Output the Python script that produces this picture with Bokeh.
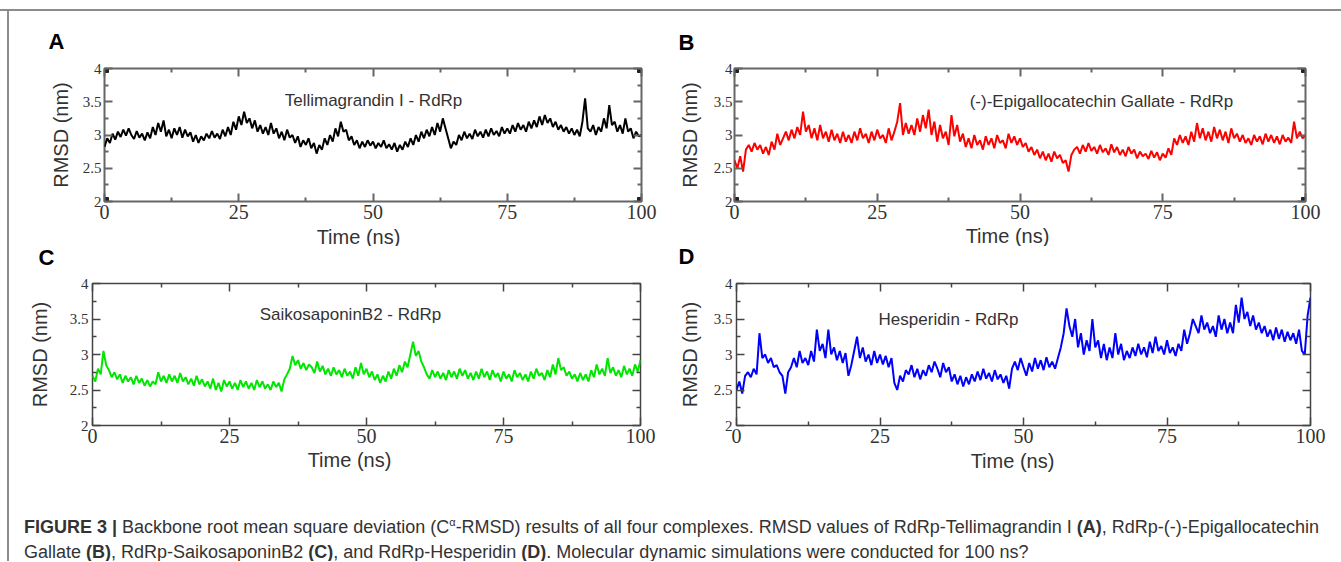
from bokeh.plotting import figure
from bokeh.layouts import column, row
from bokeh.models import Label, LinearAxis, FixedTicker, NumeralTickFormatter, Range1d, Div
from bokeh.embed import file_html
from bokeh.resources import INLINE

# ---------------- data ----------------
TIME_NS = [i * 0.5 for i in range(201)]

RMSD_TELLIMAGRANDIN = [
    2.82, 2.95, 2.88, 3.02, 2.93, 3.05, 2.97, 3.08, 2.99, 3.10,
    3.00, 2.94, 3.06, 2.96, 3.02, 2.92, 3.04, 2.95, 3.12, 3.00,
    3.18, 3.05, 3.22, 2.98, 3.08, 2.95, 3.10, 3.00, 3.12, 2.96,
    3.08, 2.98, 3.04, 2.90, 3.00, 2.88, 2.98, 2.92, 3.02, 2.95,
    3.06, 2.96, 3.02, 2.94, 3.08, 2.98, 3.12, 3.00, 3.20, 3.08,
    3.28, 3.15, 3.35, 3.18, 3.25, 3.10, 3.22, 3.05, 3.15, 3.02,
    3.12, 3.00, 3.18, 3.02, 3.10, 2.95, 3.05, 2.92, 3.08, 2.96,
    3.00, 2.88, 2.98, 2.82, 2.92, 2.85, 2.95, 2.80, 2.88, 2.72,
    2.85, 2.78, 2.95, 2.85, 3.00, 2.90, 3.10, 2.98, 3.20, 3.05,
    3.08, 2.92, 2.98, 2.85, 2.92, 2.80, 2.90, 2.82, 2.92, 2.84,
    2.90, 2.80, 2.88, 2.82, 2.92, 2.80, 2.86, 2.78, 2.88, 2.75,
    2.85, 2.78, 2.90, 2.82, 2.95, 2.85, 3.00, 2.90, 3.05, 2.95,
    3.08, 2.98, 3.12, 3.00, 3.18, 3.05, 3.25, 3.10, 2.95, 2.80,
    2.90, 2.85, 3.00, 2.92, 3.05, 2.95, 3.02, 2.94, 3.08, 2.98,
    3.05, 2.96, 3.08, 2.98, 3.10, 3.00, 3.06, 2.98, 3.12, 3.02,
    3.10, 3.02, 3.15, 3.05, 3.18, 3.08, 3.15, 3.05, 3.20, 3.10,
    3.22, 3.12, 3.28, 3.15, 3.30, 3.18, 3.25, 3.12, 3.20, 3.08,
    3.15, 3.05, 3.12, 3.02, 3.10, 3.00, 3.08, 2.98, 3.20, 3.55,
    3.10, 3.05, 3.15, 3.00, 3.12, 3.05, 3.25, 3.10, 3.45, 3.15,
    3.20, 3.05, 3.15, 3.02, 3.25, 3.05, 3.10, 2.95, 3.05, 2.98,
    3.00,
]

RMSD_EGCG = [
    2.62, 2.50, 2.68, 2.45, 2.78, 2.85, 2.75, 2.88, 2.78, 2.85,
    2.72, 2.82, 2.70, 2.90, 2.78, 3.02, 2.85, 2.95, 3.05, 2.92,
    3.08, 2.95, 3.12, 3.00, 3.35, 3.05, 3.15, 2.95, 3.10, 2.92,
    3.15, 2.95, 3.05, 2.90, 3.08, 2.92, 3.02, 2.88, 3.05, 2.90,
    3.00, 2.88, 3.05, 2.92, 3.10, 2.95, 3.02, 2.88, 3.05, 2.92,
    3.08, 2.95, 3.00, 2.88, 3.10, 2.92, 3.05, 3.20, 3.48, 3.00,
    3.18, 3.02, 3.15, 3.00, 3.25, 3.05, 3.30, 3.10, 3.38, 3.00,
    3.20, 2.90, 3.15, 2.95, 3.05, 2.85, 3.30, 2.98, 3.15, 2.90,
    3.02, 2.82, 2.95, 2.80, 3.00, 2.85, 2.92, 2.78, 2.98, 2.85,
    2.95, 2.80, 3.00, 2.88, 2.92, 2.80, 3.02, 2.88, 2.98, 2.85,
    2.95, 2.82, 2.88, 2.75, 2.82, 2.70, 2.78, 2.65, 2.75, 2.62,
    2.72, 2.60, 2.75, 2.65, 2.70, 2.58, 2.62, 2.45, 2.70, 2.78,
    2.82, 2.72, 2.85, 2.75, 2.88, 2.76, 2.82, 2.72, 2.85, 2.74,
    2.80, 2.70, 2.86, 2.74, 2.82, 2.70, 2.78, 2.68, 2.82, 2.72,
    2.78, 2.65, 2.75, 2.68, 2.72, 2.64, 2.76, 2.66, 2.74, 2.62,
    2.72, 2.66, 2.80, 2.70, 2.95, 2.85, 3.00, 2.88, 2.98, 2.85,
    3.05, 2.90, 3.18, 2.95, 3.10, 2.92, 3.05, 2.90, 3.12, 2.95,
    3.08, 2.92, 3.05, 2.88, 3.10, 2.95, 3.02, 2.90, 3.00, 2.88,
    2.95, 2.85, 3.00, 2.90, 2.98, 2.86, 3.02, 2.90, 3.00, 2.88,
    2.98, 2.86, 3.00, 2.90, 2.96, 2.88, 3.20, 2.95, 3.05, 2.95,
    3.00,
]

RMSD_SAIKOSAPONIN = [
    2.70, 2.62, 2.80, 2.72, 3.05, 2.85, 2.78, 2.68, 2.75, 2.65,
    2.72, 2.60, 2.70, 2.62, 2.68, 2.58, 2.70, 2.60, 2.66, 2.56,
    2.64, 2.55, 2.62, 2.58, 2.75, 2.62, 2.70, 2.60, 2.72, 2.62,
    2.70, 2.60, 2.74, 2.62, 2.68, 2.58, 2.66, 2.56, 2.70, 2.58,
    2.65, 2.55, 2.62, 2.52, 2.66, 2.50, 2.60, 2.48, 2.64, 2.55,
    2.62, 2.52, 2.60, 2.50, 2.64, 2.54, 2.62, 2.52, 2.60, 2.50,
    2.64, 2.54, 2.62, 2.52, 2.58, 2.50, 2.62, 2.54, 2.60, 2.48,
    2.65, 2.72, 2.80, 2.98, 2.85, 2.92, 2.80, 2.88, 2.78, 2.86,
    2.82, 2.74, 2.90, 2.76, 2.84, 2.72, 2.80, 2.70, 2.82, 2.72,
    2.78, 2.68, 2.80, 2.70, 2.76, 2.66, 2.82, 2.70, 2.88, 2.72,
    2.80, 2.68, 2.76, 2.64, 2.72, 2.60, 2.70, 2.62, 2.76, 2.66,
    2.80, 2.70, 2.85, 2.75, 2.90, 2.82, 3.00, 3.18, 2.98, 3.05,
    2.90, 2.82, 2.72, 2.66, 2.78, 2.68, 2.76, 2.66, 2.74, 2.64,
    2.78, 2.68, 2.76, 2.66, 2.80, 2.70, 2.78, 2.66, 2.74, 2.64,
    2.76, 2.66, 2.80, 2.68, 2.76, 2.64, 2.78, 2.68, 2.74, 2.62,
    2.76, 2.66, 2.72, 2.62, 2.78, 2.68, 2.74, 2.64, 2.72, 2.62,
    2.76, 2.66, 2.80, 2.70, 2.74, 2.64, 2.78, 2.68, 2.86, 2.72,
    2.95, 2.78, 2.82, 2.70, 2.76, 2.66, 2.72, 2.62, 2.74, 2.64,
    2.72, 2.62, 2.78, 2.68, 2.86, 2.72, 2.80, 2.70, 2.95, 2.74,
    2.82, 2.70, 2.78, 2.68, 2.84, 2.72, 2.80, 2.70, 2.86, 2.76,
    2.92,
]

RMSD_HESPERIDIN = [
    2.50, 2.62, 2.45, 2.70, 2.75, 2.68, 2.80, 2.72, 3.30, 2.95,
    3.00, 2.88, 2.95, 2.82, 2.85, 2.75, 2.70, 2.45, 2.75, 2.82,
    2.95, 2.82, 3.05, 2.88, 2.95, 2.85, 3.05, 2.90, 3.35, 3.05,
    3.15, 2.95, 3.35, 3.00, 3.10, 2.92, 3.05, 2.88, 3.02, 2.70,
    2.85, 3.05, 3.25, 2.95, 3.10, 2.90, 3.00, 2.85, 3.05, 2.88,
    3.00, 2.86, 2.98, 2.82, 2.95, 2.60, 2.50, 2.70, 2.62, 2.78,
    2.72, 2.85, 2.68, 2.80, 2.65, 2.78, 2.70, 2.85, 2.75, 2.90,
    2.80, 2.68, 2.88, 2.75, 2.82, 2.62, 2.72, 2.58, 2.70, 2.55,
    2.68, 2.58, 2.72, 2.62, 2.76, 2.64, 2.80, 2.66, 2.74, 2.62,
    2.78, 2.65, 2.72, 2.60, 2.70, 2.52, 2.80, 2.90, 2.78, 2.95,
    2.82, 2.70, 2.88, 2.76, 2.95, 2.80, 2.92, 2.78, 2.96, 2.82,
    2.90, 2.80, 2.95, 3.10, 3.30, 3.65, 3.40, 3.25, 3.50, 3.10,
    3.30, 3.00, 3.20, 3.05, 3.50, 3.10, 3.20, 2.95, 3.15, 2.92,
    3.10, 2.95, 3.30, 3.00, 3.15, 2.92, 3.05, 2.95, 3.10, 2.98,
    3.15, 3.00, 3.10, 2.96, 3.18, 3.02, 3.25, 3.05, 3.12, 3.00,
    3.20, 3.02, 3.10, 2.98, 3.15, 3.05, 3.35, 3.15, 3.30, 3.50,
    3.40, 3.30, 3.55, 3.35, 3.45, 3.30, 3.40, 3.25, 3.55, 3.35,
    3.50, 3.30, 3.45, 3.30, 3.70, 3.45, 3.80, 3.50, 3.60, 3.40,
    3.55, 3.35, 3.45, 3.30, 3.40, 3.25, 3.35, 3.20, 3.38, 3.22,
    3.35, 3.18, 3.32, 3.20, 3.30, 3.15, 3.35, 3.05, 3.00, 3.55,
    3.80,
]

X_LIMITS = [0, 100]
Y_LIMITS = [2, 4]
X_TICKS = [0, 25, 50, 75, 100]
X_MINOR_TICKS = [12.5, 37.5, 62.5, 87.5]
Y_TICKS = [2, 2.5, 3, 3.5, 4]
Y_MINOR_TICKS = [2.25, 2.75, 3.25, 3.75]

LETTERS = ["A", "B", "C", "D"]
TITLES = ["Tellimagrandin I - RdRp", "(-)-Epigallocatechin Gallate - RdRp",
          "SaikosaponinB2 - RdRp", "Hesperidin - RdRp"]
SERIES = [RMSD_TELLIMAGRANDIN, RMSD_EGCG, RMSD_SAIKOSAPONIN, RMSD_HESPERIDIN]
COLORS = ["#000000", "#ff0000", "#00e600", "#0000ff"]
X_LABEL = "Time (ns)"
Y_LABEL = "RMSD (nm)"

# ---------------- layout (page pixels, page origin at top-left) ----------------
LAYOUT = [
    dict(o=(0, 0), w=670, h=246, fr=(104, 68, 641, 201), let=(56, 41), tit=(373, 100),
         xl=(358, 236), xl_side="above", tick_sd=3, lab_sd=8,
         frame_col="#666666", frame_w=2, corners=True),
    dict(o=(670, 0), w=671, h=246, fr=(734, 67, 1305, 201), let=(686, 41), tit=(1101, 100),
         xl=(1007, 236), xl_side="above", tick_sd=2, lab_sd=10,
         frame_col="#666666", frame_w=2, corners=True),
    dict(o=(0, 246), w=670, h=234, fr=(92, 282, 640, 425), let=(46, 256), tit=(350, 313),
         xl=(349, 460), xl_side="below", tick_sd=4, lab_sd=16,
         frame_col="#444444", frame_w=1.5, corners=False),
    dict(o=(670, 246), w=671, h=234, fr=(736, 283, 1310, 426), let=(686, 256), tit=(948, 319),
         xl=(1012, 462), xl_side="below", tick_sd=4, lab_sd=10,
         frame_col="#444444", frame_w=1.5, corners=False),
]

SANS = "Liberation Sans"
SERIF = "Liberation Serif"


def to_data(fr, px, py):
    l, t, r, b = fr
    x = X_LIMITS[0] + (px - l) / (r - l) * (X_LIMITS[1] - X_LIMITS[0])
    y = Y_LIMITS[0] + (b - py) / (b - t) * (Y_LIMITS[1] - Y_LIMITS[0])
    return x, y


def style_axis(ax, col, width, labels, size, font, standoff):
    ax.major_tick_in = 8
    ax.major_tick_out = 0
    ax.minor_tick_in = 4
    ax.minor_tick_out = 0
    ax.axis_line_color = None
    ax.major_tick_line_color = col
    ax.minor_tick_line_color = col
    ax.major_tick_line_width = width
    ax.minor_tick_line_width = width
    ax.major_label_standoff = standoff
    if labels:
        ax.major_label_text_font = font
        ax.major_label_text_font_size = size
        ax.major_label_text_color = "#333333"
    else:
        ax.major_label_text_font_size = "0px"
        ax.major_label_standoff = 0


figs = []
for i, L in enumerate(LAYOUT):
    ox, oy = L["o"]
    l, t, r, b = L["fr"]
    p = figure(width=L["w"], height=L["h"],
               x_range=Range1d(X_LIMITS[0], X_LIMITS[1]), y_range=Range1d(Y_LIMITS[0], Y_LIMITS[1]),
               x_axis_location=None, y_axis_location=None,
               output_backend="svg", toolbar_location=None,
               min_border_left=l - ox, min_border_right=ox + L["w"] - r,
               min_border_top=t - oy, min_border_bottom=oy + L["h"] - b)
    p.border_fill_color = None
    p.background_fill_color = "white"
    p.outline_line_color = L["frame_col"]
    p.outline_line_width = L["frame_w"]
    p.grid.visible = False

    xt = FixedTicker(ticks=X_TICKS, minor_ticks=X_MINOR_TICKS)
    yt = FixedTicker(ticks=Y_TICKS, minor_ticks=Y_MINOR_TICKS)

    bottom = LinearAxis(ticker=xt)
    style_axis(bottom, L["frame_col"], L["frame_w"], True, "20px", SERIF, 3)
    top = LinearAxis(ticker=xt)
    style_axis(top, L["frame_col"], L["frame_w"], False, "0px", SERIF, 0)
    left = LinearAxis(ticker=yt, formatter=NumeralTickFormatter(format="0.[0]"))
    style_axis(left, L["frame_col"], L["frame_w"], True, "15px", SERIF, L["tick_sd"])
    left.axis_label = Y_LABEL
    left.axis_label_text_font = SANS
    left.axis_label_text_font_size = "20px"
    left.axis_label_text_font_style = "normal"
    left.axis_label_text_color = "#333333"
    left.axis_label_standoff = L["lab_sd"]
    right = LinearAxis(ticker=yt)
    style_axis(right, L["frame_col"], L["frame_w"], False, "0px", SERIF, 0)

    p.add_layout(bottom, "below")
    p.add_layout(top, "above")
    p.add_layout(left, "left")
    p.add_layout(right, "right")

    p.line(TIME_NS, SERIES[i], line_color=COLORS[i], line_width=2.0)

    if L["corners"]:
        p.scatter([X_LIMITS[0], X_LIMITS[1], X_LIMITS[0], X_LIMITS[1]],
                  [Y_LIMITS[1], Y_LIMITS[1], Y_LIMITS[0], Y_LIMITS[0]],
                  marker="square", size=8, color="#222222")

    # panel title inside the frame
    tx, ty = to_data(L["fr"], *L["tit"])
    p.add_layout(Label(x=tx, y=ty, text=TITLES[i], text_font=SANS, text_font_size="17px",
                       text_color="#333333", text_align="center", text_baseline="middle"))
    # panel letter (side panel so it is not clipped to the frame)
    lx, ly = to_data(L["fr"], *L["let"])
    p.add_layout(Label(x=lx, y=ly, text=LETTERS[i], text_font=SANS, text_font_size="22px",
                       text_font_style="bold", text_color="#000000",
                       text_align="center", text_baseline="middle"), "above")
    # x-axis title
    xx, xy = to_data(L["fr"], *L["xl"])
    p.add_layout(Label(x=xx, y=xy, text=X_LABEL, text_font=SANS, text_font_size="20px",
                       text_color="#333333", text_align="center", text_baseline="middle"),
                 L["xl_side"])
    figs.append(p)

CAPTION_LINE1 = ('<b>FIGURE 3 |</b> Backbone root mean square deviation '
                 '(C<span style="font-size:11px;position:relative;top:-7px;">&alpha;</span>-RMSD) '
                 'results of all four complexes. RMSD values of RdRp-Tellimagrandin I <b>(A)</b>, '
                 'RdRp-(-)-Epigallocatechin')
CAPTION_LINE2 = ('Gallate <b>(B)</b>, RdRp-SaikosaponinB2 <b>(C)</b>, and RdRp-Hesperidin '
                 '<b>(D)</b>. Molecular dynamic simulations were conducted for 100 ns?')

caption = Div(
    text=('<div style="padding:36px 0 0 24px;font-family:\'Liberation Sans\',Arial,sans-serif;'
          'font-size:18px;line-height:23px;color:#333333;white-space:nowrap;">'
          + CAPTION_LINE1 + '<br>' + CAPTION_LINE2 + '</div>'),
    width=1341, height=81, margin=0, styles={"overflow": "hidden"})

layout = column(
    row(figs[0], figs[1], spacing=0),
    row(figs[2], figs[3], spacing=0),
    caption,
    spacing=0,
    styles={"background": ("linear-gradient(#8c8c8c,#8c8c8c) 0 9px / 100% 2px no-repeat, "
                           "linear-gradient(#8c8c8c,#8c8c8c) 7px 9px / 2px 100% no-repeat")},
)

with open("out.html", "w") as f:
    f.write(file_html(layout, INLINE))
